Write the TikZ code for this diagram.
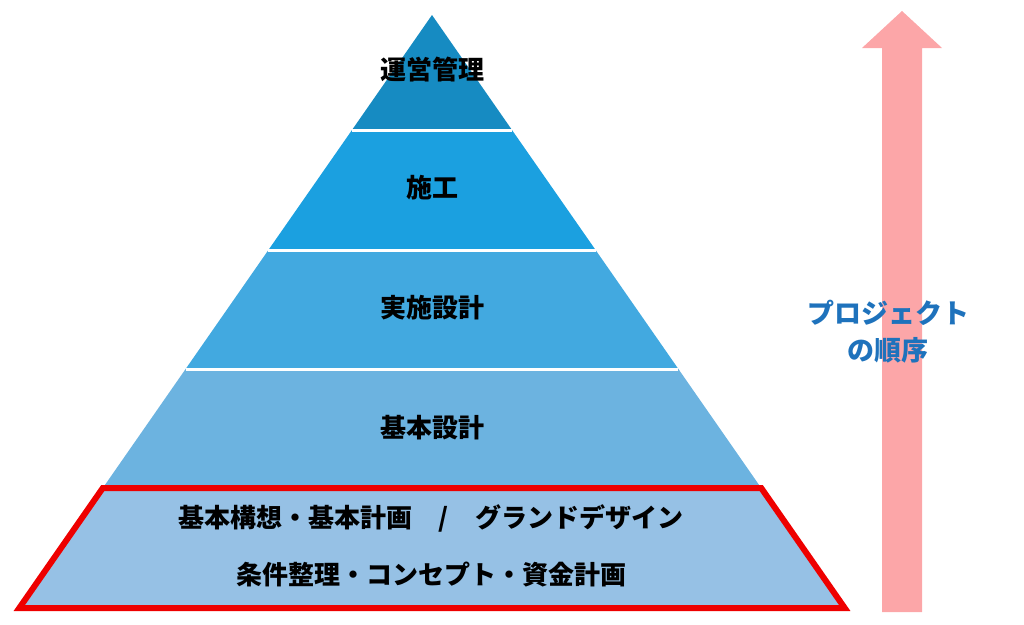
\documentclass[tikz,border=0pt]{standalone}
\usepackage{fontspec}
\newfontfamily\jp{Noto Sans CJK JP}

\definecolor{bandA}{RGB}{22,139,194}
\definecolor{bandB}{RGB}{27,160,224}
\definecolor{bandC}{RGB}{66,169,224}
\definecolor{bandD}{RGB}{108,179,224}
\definecolor{bandE}{RGB}{150,193,229}
\definecolor{arrowpink}{RGB}{252,166,168}
\definecolor{ordertext}{RGB}{30,114,188}
\definecolor{redframe}{RGB}{238,0,0}

\begin{document}
\begin{tikzpicture}[x=1pt, y=-1pt,
        stage/.style={font=\jp\bfseries\fontsize{26}{57}\selectfont, text=black, align=center},
        gap/.style={white, line width=3pt},
        frame/.style={redframe, line width=6pt, line join=miter}]
        \useasboundingbox (0,0) rectangle (1024,624);

        \coordinate (T) at (432, 15);
        \coordinate (A1) at (352, 130);   \coordinate (A2) at (512, 130);
        \coordinate (B1) at (268.4, 250); \coordinate (B2) at (595.6, 250);
        \coordinate (C1) at (185.6, 369); \coordinate (C2) at (678.4, 369);
        \coordinate (D1) at (102.8, 488); \coordinate (D2) at (761.2, 488);
        \coordinate (E1) at (19.3, 608);  \coordinate (E2) at (844.7, 608);

        % pyramid
        \fill[bandA] (T) -- (A2) -- (A1) -- cycle;
        \fill[bandB] (A1) -- (A2) -- (B2) -- (B1) -- cycle;
        \fill[bandC] (B1) -- (B2) -- (C2) -- (C1) -- cycle;
        \fill[bandD] (C1) -- (C2) -- (D2) -- (D1) -- cycle;
        \fill[bandE] (D1) -- (D2) -- (E2) -- (E1) -- cycle;

        \draw[gap] (A1) -- (A2);
        \draw[gap] (B1) -- (B2);
        \draw[gap] (C1) -- (C2);
        \draw[gap] (D1) -- (D2);

        \draw[frame] (D1) -- (D2) -- (E2) -- (E1) -- cycle;

        \node[stage] (unei) at (432, 70) {運営管理};
        \node[stage] (sekou) at (432, 188) {施工};
        \node[stage] (jisshi) at (432, 308) {実施設計};
        \node[stage] (kihon) at (432, 428) {基本設計};
        \node[stage] (kikaku) at (431, 546) {基本構想・基本計画　/　グランドデザイン\\条件整理・コンセプト・資金計画};

        % arrow
        \fill[arrowpink] (882, 612) -- (882, 48) -- (862, 48) -- (902, 11)
                -- (942, 48) -- (922, 48) -- (922, 612) -- cycle;

        \node[font=\jp\bfseries\fontsize{27}{37}\selectfont, text=ordertext, align=center]
                (order) at (888, 332) {プロジェクト\\の順序};
\end{tikzpicture}
\end{document}
